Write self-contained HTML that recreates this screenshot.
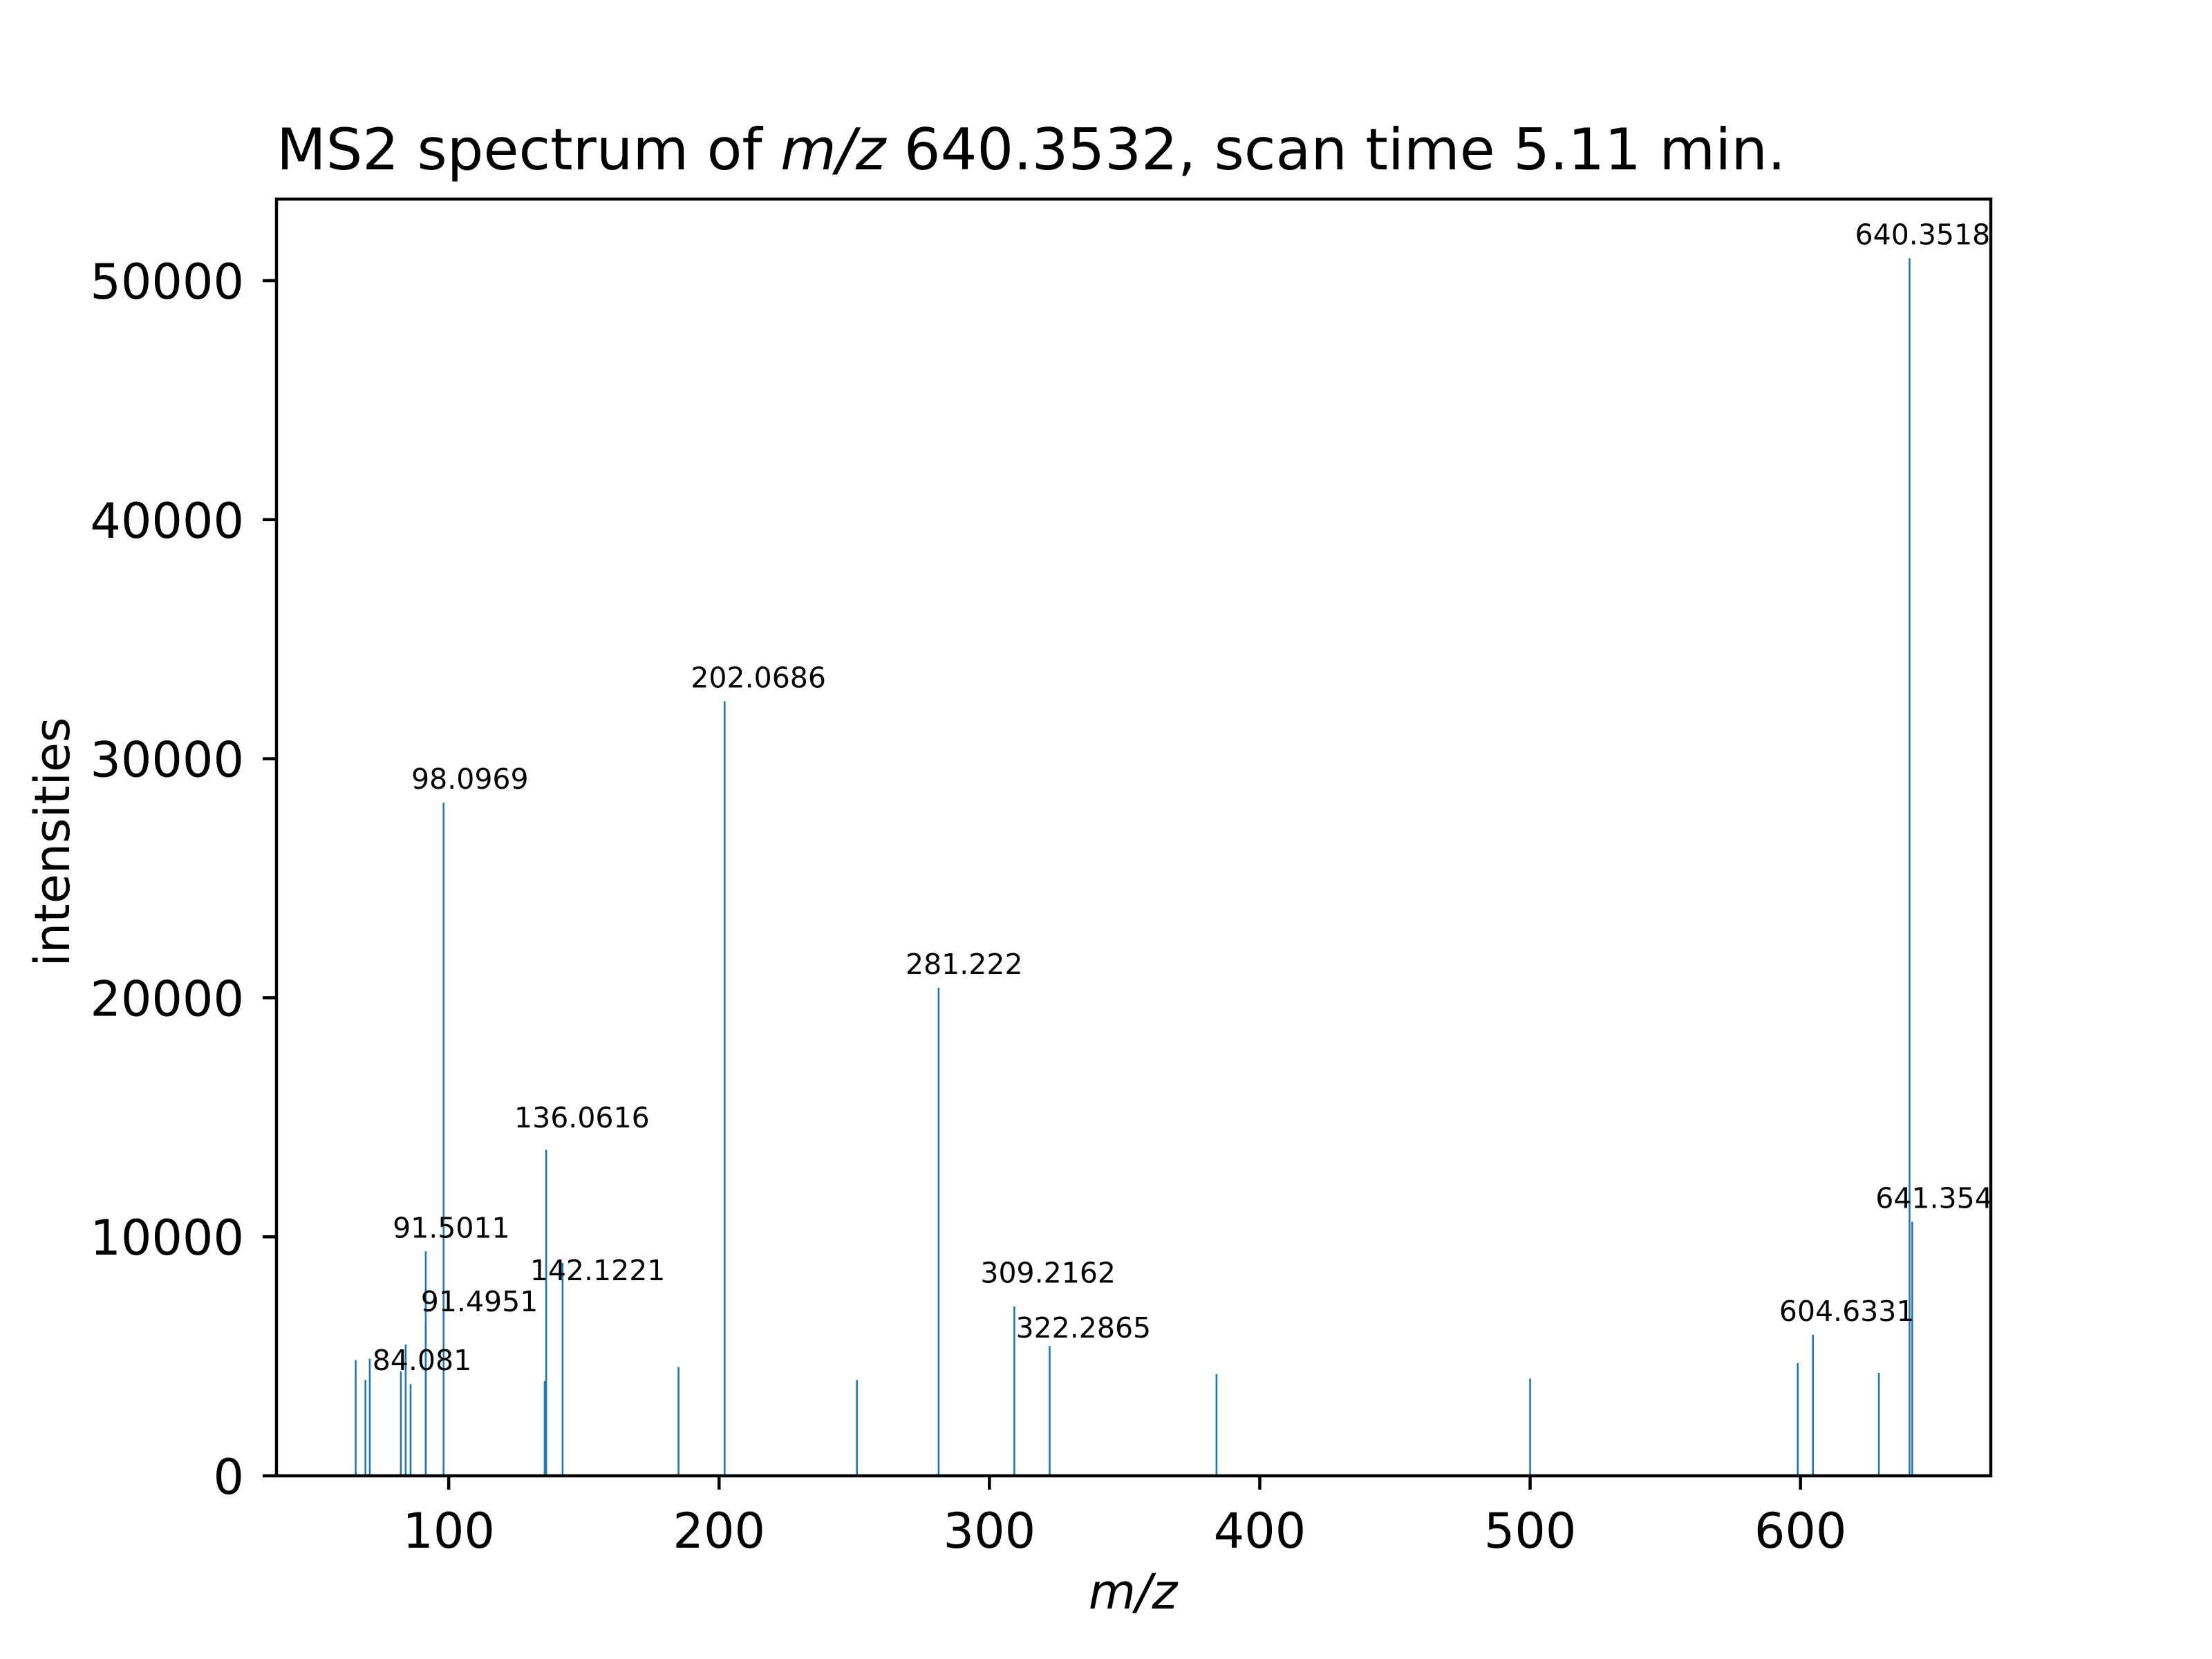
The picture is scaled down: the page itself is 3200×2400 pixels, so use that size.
<!DOCTYPE html>
<html><head><meta charset="utf-8"><style>
html,body{margin:0;padding:0;background:#fff}
svg{display:block;font-family:"DejaVu Sans","Liberation Sans",sans-serif}
</style></head><body>
<svg id="chart" width="3200" height="2400" viewBox="0 0 3200 2400" xmlns="http://www.w3.org/2000/svg">
<rect x="0" y="0" width="3200" height="2400" fill="#fff"/>
<text x="400" y="245" font-size="83" fill="#000">MS2 spectrum of <tspan font-style="italic">m/z</tspan> 640.3532, scan time 5.11 min.</text>
<g id="peaks"></g>
<g id="labels"></g>
<g id="xticks"></g>
<g id="yticks"></g>
<rect x="400" y="288" width="2480" height="1847" fill="none" stroke="#000" stroke-width="4.5"/>
<text x="1639" y="2327" font-size="70" font-style="italic" text-anchor="middle">m/z</text>
<text transform="translate(100,1218) rotate(-90)" font-size="70" text-anchor="middle">intensities</text>
</svg>
<script>
const mzValues = [65.6, 69.2, 70.8, 82.3, 84.081, 85.9, 91.4951, 91.5011, 98.0969, 135.5, 136.0616, 142.1221, 185.0, 202.0686, 251.0, 281.222, 309.2162, 322.2865, 384.0, 500.0, 599.0, 604.6331, 629.0, 640.3518, 641.354];
const intensities = [4840, 4010, 4900, 4370, 5490, 3840, 6300, 9390, 28160, 3960, 13640, 8910, 4550, 32400, 4010, 20420, 7080, 5430, 4250, 4070, 4720, 5900, 4310, 50940, 10630];
const labelTexts = ["84.081", "91.4951", "91.5011", "98.0969", "136.0616", "142.1221", "202.0686", "281.222", "309.2162", "322.2865", "604.6331", "640.3518", "641.354"];
const labelMz = [84.3, 102.2, 91.8, 98.7, 136.8, 142.6, 202.0686, 281.5, 309.2162, 322.2865, 604.6331, 632.7, 640.3];
const labelIntensity = [3840, 6300, 9390, 28160, 14000, 7600, 32400, 20420, 7500, 5200, 5900, 50940, 10630];
const xTicks = [100, 200, 300, 400, 500, 600];
const yTicks = [0, 10000, 20000, 30000, 40000, 50000];

const X0=400, X1=2880, Y0=2135, Y1=288;
const xMin=36.3, xMax=670.4, yMin=0, yMax=53412;
const xs = v => X0 + (v-xMin)/(xMax-xMin)*(X1-X0);
const ys = v => Y0 - (v-yMin)/(yMax-yMin)*(Y0-Y1);
const NS="http://www.w3.org/2000/svg";
const mk=(t,a)=>{const e=document.createElementNS(NS,t);for(const k in a)e.setAttribute(k,a[k]);return e;};

const pg=document.getElementById('peaks');
mzValues.forEach((m,i)=>{
  const l=mk('line',{x1:xs(m),x2:xs(m),y1:ys(0),y2:ys(intensities[i]),stroke:'#1f77b4','stroke-width':2.6});
  
  
  pg.appendChild(l);
});
const lg=document.getElementById('labels');
labelTexts.forEach((t,i)=>{
  const e=mk('text',{x:xs(labelMz[i])-49,y:ys(labelIntensity[i])-20,'font-size':'41',fill:'#000'});
  e.textContent=t;
  
  
  lg.appendChild(e);
});
const xg=document.getElementById('xticks');
xTicks.forEach(v=>{
  const l=mk('line',{x1:xs(v),x2:xs(v),y1:Y0,y2:Y0+20,stroke:'#000','stroke-width':4.5});
  
  
  xg.appendChild(l);
  const t=mk('text',{x:xs(v),y:2239,'font-size':'70','text-anchor':'middle'});
  t.textContent=v;
  
  
  xg.appendChild(t);
});
const yg=document.getElementById('yticks');
yTicks.forEach(v=>{
  const l=mk('line',{x1:X0-20,x2:X0,y1:ys(v),y2:ys(v),stroke:'#000','stroke-width':4.5});
  
  
  yg.appendChild(l);
  const t=mk('text',{x:353,y:ys(v)+26,'font-size':'70','text-anchor':'end'});
  t.textContent=v;
  
  
  yg.appendChild(t);
});
</script>
</body></html>
